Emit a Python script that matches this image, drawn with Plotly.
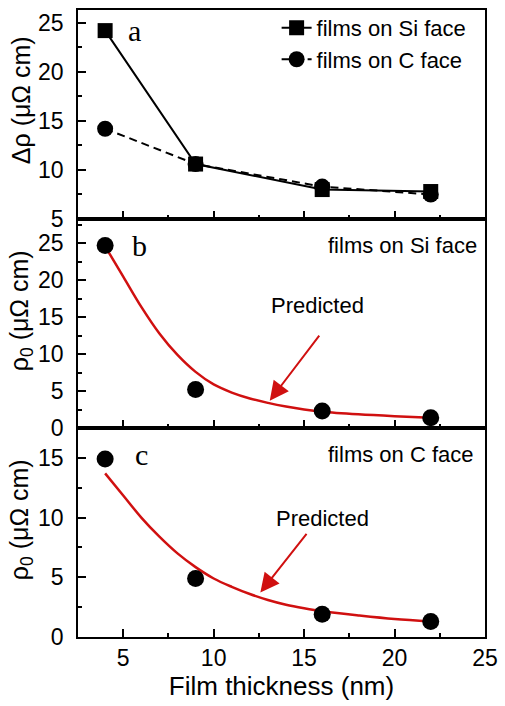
import plotly.graph_objects as go

# ---- data ----
thickness = [4, 9, 16, 22]
drho_si = [24.2, 10.6, 8.0, 7.8]
drho_c = [14.2, 10.6, 8.3, 7.5]
rho0_si = [24.7, 5.2, 2.3, 1.4]
rho0_c = [14.9, 4.9, 1.9, 1.3]

pred_x = [4, 5, 6, 7, 8, 9, 10, 11, 12, 13, 14, 15, 16, 18, 20, 22]
pred_si = [24.6, 20.5, 16.4, 12.8, 9.9, 7.6, 5.9, 4.8, 4.0, 3.4, 2.9, 2.5, 2.2, 1.85, 1.6, 1.4]
pred_c = [13.7, 11.85, 10.0, 8.4, 7.0, 5.85, 4.9, 4.2, 3.6, 3.1, 2.7, 2.4, 2.15, 1.8, 1.5, 1.3]

FONT = "Liberation Sans"
SERIF = "Liberation Serif"
RED = "#d01010"

fig = go.Figure()

# panel a
fig.add_trace(go.Scatter(x=thickness, y=drho_si, mode="lines+markers", name="films on Si face",
                         line=dict(color="black", width=2),
                         marker=dict(symbol="square", size=15, color="black"),
                         xaxis="x", yaxis="y"))
fig.add_trace(go.Scatter(x=thickness, y=drho_c, mode="lines+markers", name="films on C face",
                         line=dict(color="black", width=2, dash="8px,5px"),
                         marker=dict(symbol="circle", size=16, color="black"),
                         xaxis="x", yaxis="y"))
# panel b
fig.add_trace(go.Scatter(x=pred_x, y=pred_si, mode="lines", line=dict(color=RED, width=2.5, shape="spline"),
                         showlegend=False, xaxis="x2", yaxis="y2"))
fig.add_trace(go.Scatter(x=thickness, y=rho0_si, mode="markers", marker=dict(size=17, color="black"),
                         showlegend=False, xaxis="x2", yaxis="y2"))
# panel c
fig.add_trace(go.Scatter(x=pred_x, y=pred_c, mode="lines", line=dict(color=RED, width=2.5, shape="spline"),
                         showlegend=False, xaxis="x3", yaxis="y3"))
fig.add_trace(go.Scatter(x=thickness, y=rho0_c, mode="markers", marker=dict(size=17, color="black"),
                         showlegend=False, xaxis="x3", yaxis="y3"))

tickfont = dict(family=FONT, size=23, color="black")
common_x = dict(range=[2.5, 25], dtick=5, tick0=5, ticks="inside", ticklen=8, tickwidth=1.5,
                showline=True, linecolor="black", linewidth=1.5, mirror=True, showgrid=False,
                zeroline=False, tickfont=tickfont, tickcolor="black",
                minor=dict(dtick=2.5, tick0=2.5, ticks="inside", ticklen=4, tickcolor="black", tickwidth=1.5))
common_y = dict(ticks="inside", ticklen=8, tickwidth=1.5, tickcolor="black",
                showline=True, linecolor="black", linewidth=1.5, mirror=True, showgrid=False,
                zeroline=False, tickfont=tickfont, ticklabelstandoff=8,
                minor=dict(dtick=2.5, ticks="inside", ticklen=4, tickcolor="black", tickwidth=1.5))

fig.update_layout(
    width=505, height=706,
    margin=dict(l=78, r=15, t=7, b=69),
    paper_bgcolor="white", plot_bgcolor="white",
    font=dict(family=FONT, color="black"),
    xaxis=dict(common_x, domain=[0, 1], anchor="y", showticklabels=False),
    xaxis2=dict(common_x, domain=[0, 1], anchor="y2", showticklabels=False, matches="x"),
    xaxis3=dict(common_x, domain=[0, 1], anchor="y3", matches="x",
                title=dict(text="Film thickness (nm)", font=dict(family=FONT, size=26, color="black"), standoff=6)),
    yaxis=dict(common_y, domain=[2/3, 1], range=[5, 26.3], dtick=5, tick0=5, anchor="x"),
    yaxis2=dict(common_y, domain=[1/3, 2/3], range=[0, 28.3], dtick=5, tick0=0, anchor="x2"),
    yaxis3=dict(common_y, domain=[0, 1/3], range=[0, 17.5], dtick=5, tick0=0, anchor="x3"),
    legend=dict(x=0.488, y=1.005, xanchor="left", yanchor="top", bgcolor="rgba(0,0,0,0)",
                font=dict(family=FONT, size=22, color="black"), tracegroupgap=0),
    showlegend=True,
)

TX = -0.1408
annots = [
    # y-axis titles
    dict(x=TX, y=0.8556, xref="paper", yref="paper", text="Δρ (μΩ cm)", textangle=-90,
         showarrow=False, xanchor="center", yanchor="middle", font=dict(family=FONT, size=25, color="black")),
    dict(x=TX, y=0.5206, xref="paper", yref="paper", text="ρ<sub>0</sub> (μΩ cm)", textangle=-90,
         showarrow=False, xanchor="center", yanchor="middle", font=dict(family=FONT, size=25, color="black")),
    dict(x=TX, y=0.1873, xref="paper", yref="paper", text="ρ<sub>0</sub> (μΩ cm)", textangle=-90,
         showarrow=False, xanchor="center", yanchor="middle", font=dict(family=FONT, size=25, color="black")),
    # panel letters
    dict(x=5.6, y=24.2, xref="x", yref="y", text="a", showarrow=False,
         font=dict(family=SERIF, size=30, color="black")),
    dict(x=5.9, y=24.7, xref="x2", yref="y2", text="b", showarrow=False,
         font=dict(family=SERIF, size=30, color="black")),
    dict(x=6.0, y=15.3, xref="x3", yref="y3", text="c", showarrow=False,
         font=dict(family=SERIF, size=30, color="black")),
    dict(x=0.985, y=24.7, xref="paper", yref="y2", text="films on Si face", showarrow=False,
         xanchor="right", font=dict(family=FONT, size=22, color="black")),
    dict(x=0.978, y=15.3, xref="paper", yref="y3", text="films on C face", showarrow=False,
         xanchor="right", font=dict(family=FONT, size=22, color="black")),
    dict(x=15.74, y=16.6, xref="x2", yref="y2", text="Predicted", showarrow=False,
         font=dict(family=FONT, size=22, color="black")),
    dict(x=16.0, y=9.9, xref="x3", yref="y3", text="Predicted", showarrow=False,
         font=dict(family=FONT, size=22, color="black")),
    dict(x=13.1, y=3.7, ax=15.9, ay=12.7, xref="x2", yref="y2", axref="x2", ayref="y2",
         text="", showarrow=True, arrowhead=2, arrowsize=1.9, arrowwidth=2, arrowcolor=RED),
    dict(x=12.58, y=3.72, ax=15.2, ay=8.76, xref="x3", yref="y3", axref="x3", ayref="y3",
         text="", showarrow=True, arrowhead=2, arrowsize=1.9, arrowwidth=2, arrowcolor=RED),
]
fig.update_layout(annotations=annots)

fig.write_html("out.html", config={"displayModeBar": False},
               post_script="document.body.style.margin='0px';document.body.style.overflow='hidden';")
